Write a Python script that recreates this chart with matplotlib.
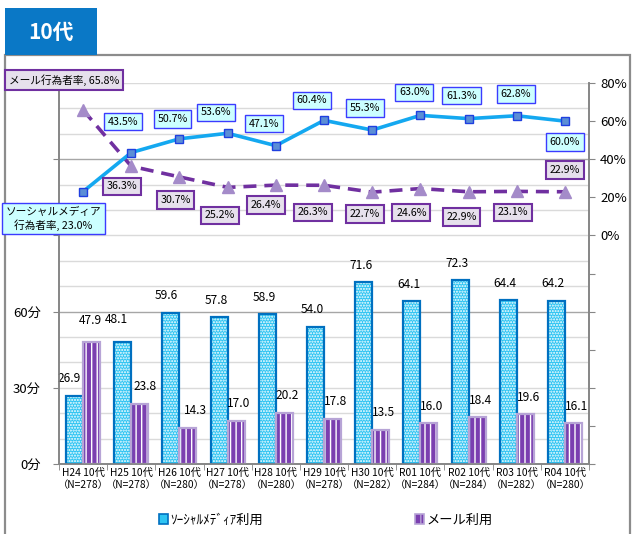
import matplotlib
matplotlib.use("Agg")
import matplotlib.pyplot as plt
from matplotlib.patches import Rectangle, Patch
import numpy as np

plt.rcParams['font.family'] = ['Noto Sans CJK JP', 'DejaVu Sans']

# ---------------- data ----------------
years = ["H24", "H25", "H26", "H27", "H28", "H29", "H30", "R01", "R02", "R03", "R04"]
sample_n = [278, 278, 280, 278, 280, 278, 282, 284, 284, 282, 280]
sns_minutes = [26.9, 48.1, 59.6, 57.8, 58.9, 54.0, 71.6, 64.1, 72.3, 64.4, 64.2]
mail_minutes = [47.9, 23.8, 14.3, 17.0, 20.2, 17.8, 13.5, 16.0, 18.4, 19.6, 16.1]
sns_rate = [23.0, 43.5, 50.7, 53.6, 47.1, 60.4, 55.3, 63.0, 61.3, 62.8, 60.0]
mail_rate = [65.8, 36.3, 30.7, 25.2, 26.4, 26.3, 22.7, 24.6, 22.9, 23.1, 22.9]
title = "10代"
sns_legend = "ｿｰｼｬﾙﾒﾃﾞｨｱ利用"
mail_legend = "メール利用"
sns_first_label = "ソーシャルメディア\n行為者率, 23.0%"
mail_first_label = "メール行為者率, 65.8%"

# label offsets (pixels) relative to points
sns_off = [(-30, -27), (-8, 31), (-7, 20), (-12, 21), (-12, 22), (-12, 20),
           (-7, 22), (-6, 23), (-7, 23), (-1, 22), (0, -21)]
mail_off = [(-19, 30), (-9, -20), (-4, -23), (-8, -28), (-10, -20), (-11, -27),
            (-7, -22), (-9, -24), (-7, -25), (-4, -21), (0, 22)]
sns_bar_off = [(-5, 17), (-6, 22), (-5, 17), (-3, 17), (-3, 17), (-3, 17),
               (-3, 17), (-3, 17), (-3, 17), (-3, 17), (-3, 17)]
mail_bar_off = [(-1, 22), (5, 17), (7, 17), (3, 17), (3, 17), (3, 17),
                (3, 17), (3, 17), (3, 17), (3, 17), (3, 17)]

W, H = 635, 534
fig = plt.figure(figsize=(W / 100, H / 100), dpi=100)

# frame and title box
fig.patches.append(Rectangle((5 / W, -0.01), (630 - 5) / W, (534 - 55) / H + 0.01,
                             transform=fig.transFigure, fill=False,
                             edgecolor='#8C8C8C', linewidth=1.6, zorder=0))
fig.patches.append(Rectangle((5 / W, 1 - 55 / H), 92 / W, 47 / H,
                             transform=fig.transFigure, facecolor='#0A78C6',
                             edgecolor='none', zorder=1))
fig.text(51 / W, 1 - 32 / H, title, color='white', fontsize=15, fontweight='bold',
         ha='center', va='center')

left, right, top, bottom = 59, 589, 83, 464
ax = fig.add_axes([left / W, 1 - bottom / H, (right - left) / W, (bottom - top) / H])
ax2 = ax.twinx()

x = np.arange(len(years))
bw = 0.353

# minute axis
ax.set_xlim(-0.5, len(years) - 0.5)
ax.set_ylim(0, 150)
for v in range(10, 151, 10):
    ax.axhline(v, color='#A6A6A6' if v % 60 == 0 else '#DADADA', lw=1.0, zorder=0)

# bars: social (cyan dotted), mail (purple striped)
ax.bar(x - bw / 2, sns_minutes, bw, color='#2EC4F2', edgecolor='white', hatch='......',
       linewidth=0, zorder=2)
ax.bar(x - bw / 2, sns_minutes, bw, fill=False, edgecolor='#0070C0', linewidth=1.6, zorder=3)
ax.bar(x + bw / 2, mail_minutes, bw, color='#7B3FB0', edgecolor='white', hatch='|||',
       linewidth=0, zorder=2)
ax.bar(x + bw / 2, mail_minutes, bw, fill=False, edgecolor='#B7A4D6', linewidth=1.6, zorder=3)

for i in range(len(years)):
    ax.annotate(f"{sns_minutes[i]:.1f}", (x[i] - bw / 2, sns_minutes[i]),
                xytext=sns_bar_off[i], textcoords='offset pixels',
                ha='center', va='center', fontsize=8.6, zorder=5)
    ax.annotate(f"{mail_minutes[i]:.1f}", (x[i] + bw / 2, mail_minutes[i]),
                xytext=mail_bar_off[i], textcoords='offset pixels',
                ha='center', va='center', fontsize=8.6, zorder=5)

ax.set_yticks([0, 30, 60, 90, 120, 150])
ax.set_yticklabels(["0分", "30分", "60分", "", "", ""], fontsize=9.5)
ax.tick_params(axis='y', length=4, pad=9, color='#868686', direction='out')

ax.set_xticks(x)
ax.set_xticklabels([f"{y} 10代\n（N={n}）" for y, n in zip(years, sample_n)], fontsize=7.4,
                   linespacing=1.25)
ax.set_xticks(np.arange(-0.5, len(years), 1.0), minor=True)
ax.tick_params(axis='x', which='major', length=0, pad=3)
ax.tick_params(axis='x', which='minor', length=4, color='#868686')

for s in ['top']:
    ax.spines[s].set_visible(False)
    ax2.spines[s].set_visible(False)
for s in ['left', 'bottom', 'right']:
    ax.spines[s].set_color('#868686')
    ax2.spines[s].set_color('#868686')
    ax.spines[s].set_linewidth(1.2)
    ax2.spines[s].set_linewidth(1.2)

# percentage axis
ax2.set_ylim(-120, 80)
ax2.set_yticks(np.arange(-120, 81, 20))
ax2.set_yticklabels([f"{v}%" if v >= 0 else "" for v in range(-120, 81, 20)], fontsize=9.5)
ax2.tick_params(axis='y', length=4, pad=4, color='#868686')

ax2.plot(x, mail_rate, color='#7030A0', lw=2.6, dashes=(3.6, 2.2), marker='^',
         markersize=8, markerfacecolor='#A48BC9', markeredgecolor='#A48BC9', zorder=3)
ax2.plot(x, sns_rate, color='#14A8F0', lw=2.6, marker='s', markersize=6,
         markerfacecolor='#5B8ED6', markeredgecolor='#1F3FE0', markeredgewidth=1.0, zorder=4)

for i in range(len(years)):
    t = sns_first_label if i == 0 else f"{sns_rate[i]:.1f}%"
    ax2.annotate(t, (x[i], sns_rate[i]), xytext=sns_off[i], textcoords='offset pixels',
                 ha='center', va='center', fontsize=7.7, zorder=6, linespacing=1.25,
                 bbox=dict(boxstyle='square,pad=0.35', fc='#CCFFFF', ec='#3B3BFF', lw=1.0))
    t = mail_first_label if i == 0 else f"{mail_rate[i]:.1f}%"
    ax2.annotate(t, (x[i], mail_rate[i]), xytext=mail_off[i], textcoords='offset pixels',
                 ha='center', va='center', fontsize=7.7, zorder=6,
                 bbox=dict(boxstyle='square,pad=0.35', fc='#E6E0EC', ec='#7030A0', lw=1.5))

ax.set_zorder(1)
ax2.set_zorder(2)
ax2.patch.set_visible(False)

handles = [Patch(facecolor='#2EC4F2', edgecolor='#0070C0', lw=1.2),
           Patch(facecolor='#7B3FB0', edgecolor='#B7A4D6', hatch='||', lw=1.2)]
fig.legend(handles, [sns_legend, mail_legend], loc='center', ncol=2,
           bbox_to_anchor=(326 / W, 1 - 520 / H), frameon=False, fontsize=9.5,
           handlelength=0.7, handleheight=0.7, handletextpad=0.2, columnspacing=11.5)

fig.savefig("out.png", dpi=100)
